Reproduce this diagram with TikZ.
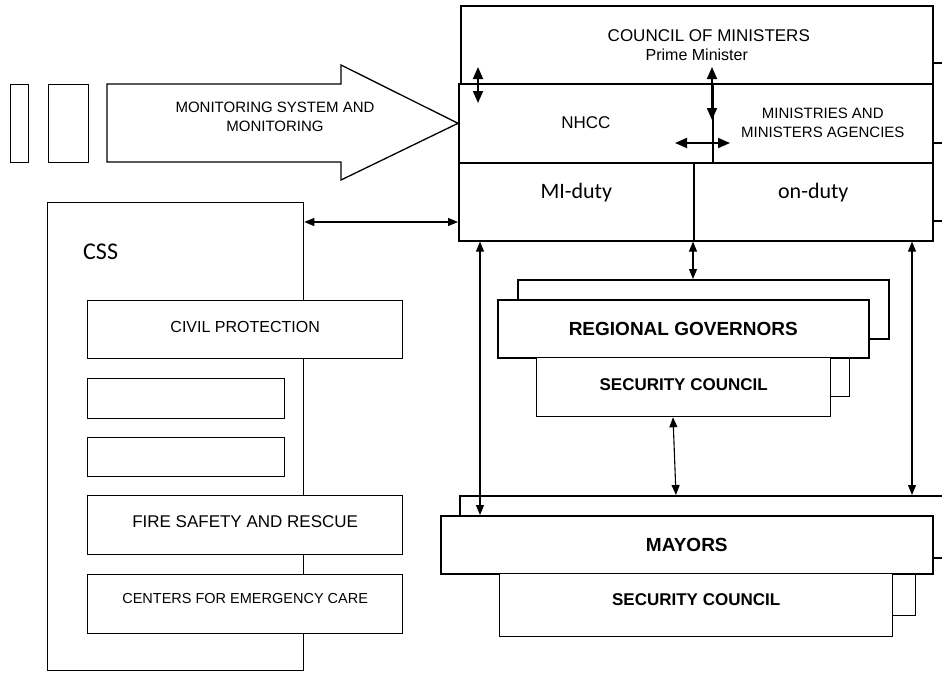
\documentclass[tikz,border=0pt]{standalone}
\usepackage{fontspec}
\setmainfont{Liberation Sans}
\newfontfamily\calfont{Carlito}
\usetikzlibrary{arrows.meta, positioning}
\tikzstyle{unit} = [draw, fill=white, line width=1.6pt, rectangle, inner sep=0pt, anchor=north west, align=center]
\tikzstyle{sub} = [draw, fill=white, line width=1.3pt, rectangle, inner sep=0pt, anchor=north west, align=center]
\tikzstyle{link} = [line width=1.1pt, {Triangle[length=10pt,width=8pt]}-{Triangle[length=10pt,width=8pt]}]
\tikzstyle{biglink} = [line width=1.8pt, {Triangle[length=12pt,width=10pt]}-{Triangle[length=12pt,width=10pt]}]
\tikzstyle{stub} = [line width=1.3pt]

\begin{document}
\begin{tikzpicture}[x=1pt, y=-1pt]
	\clip (0,0) rectangle (942,672);
	% top block
	\node [unit, minimum width=472pt, minimum height=78pt, font=\fontsize{17}{20}\selectfont] (council) at (460,5) {%
		\hspace*{24pt}COUNCIL OF MINISTERS\\[-1pt]{\fontsize{16}{18}\selectfont Prime Minister}};
	\node [unit, minimum width=254pt, minimum height=79pt, font=\fontsize{17}{20}\selectfont, text height=12pt, text depth=1pt] (nhcc) at (458,83) {NHCC};
	\node [unit, minimum width=220pt, minimum height=79pt, font=\fontsize{15}{19}\selectfont] (ministries) at (712,83) {MINISTRIES AND\\MINISTERS AGENCIES};
	\node [unit, minimum width=235pt, minimum height=78pt, font=\calfont\fontsize{22}{24}\selectfont, text height=16pt, text depth=22pt] (miduty) at (458,162) {MI-duty};
	\node [unit, minimum width=239pt, minimum height=78pt, font=\calfont\fontsize{22}{24}\selectfont, text height=16pt, text depth=22pt] (onduty) at (693,162) {on-duty};
	\draw [stub] (council.east |- 0,63) -- ++(10,0);
	\draw [stub] (ministries.east |- 0,143) -- ++(10,0);
	\draw [stub] (onduty.east |- 0,221) -- ++(10,0);
	\coordinate (ulink) at (478,83);
	\coordinate (hlink) at (712,143);
	\draw [biglink] ([yshift=16pt]ulink) -- ([yshift=-20pt]ulink);
	\draw [biglink] ([yshift=16pt]ministries.north west) -- ([yshift=-37pt]ministries.north west);
	\draw [biglink] ([xshift=-37pt]hlink) -- ([xshift=18pt]hlink);

	% monitoring arrow
	\node [sub, minimum width=18pt, minimum height=78pt] (bar1) at (10,84) {};
	\node [sub, minimum width=40pt, minimum height=78pt] (bar2) at (48,84) {};
	\draw [line width=1.3pt] (107,84) -- (341,84) -- (341,65) -- (nhcc.west) -- (341,180) -- (341,162) -- (107,162) -- cycle;
	\node [align=center, font=\fontsize{15}{19}\selectfont] (monitor) at (275,117) {MONITORING SYSTEM AND\\MONITORING};

	% CSS
	\node [unit, line width=1.3pt, minimum width=256pt, minimum height=468pt] (css) at (47,202) {};
	\node [anchor=west, inner sep=0pt, font=\calfont\fontsize{24}{26}\selectfont] (csslabel) at (83,252) {CSS};
	\node [sub, minimum width=315pt, minimum height=58pt, font=\fontsize{16}{18}\selectfont, text height=12pt, text depth=6pt] (civil) at (87,300) {CIVIL PROTECTION};
	\node [sub, minimum width=197pt, minimum height=40pt] (empty1) at (87,378) {};
	\node [sub, minimum width=197pt, minimum height=39pt] (empty2) at (87,437) {};
	\node [sub, minimum width=315pt, minimum height=59pt, font=\fontsize{17}{19}\selectfont, text height=12pt, text depth=8pt] (fire) at (87,495) {FIRE SAFETY AND RESCUE};
	\node [sub, minimum width=315pt, minimum height=59pt, font=\fontsize{14.5}{17}\selectfont, text height=11pt, text depth=12pt] (centers) at (87,574) {CENTERS FOR EMERGENCY CARE};
	\draw [link] (css.east |- 0,222) -- (miduty.west |- 0,222);

	% regional governors
	\node [unit, minimum width=371pt, minimum height=59pt] (rgback) at (517,279) {};
	\node [sub, minimum width=293pt, minimum height=56pt] (scrgback) at (556,340) {};
	\node [unit, minimum width=371pt, minimum height=58pt, font=\bfseries\fontsize{19}{21}\selectfont] (rg) at (497,299) {REGIONAL GOVERNORS};
	\node [sub, minimum width=294pt, minimum height=59pt, font=\bfseries\fontsize{17}{19}\selectfont, text height=13pt, text depth=6pt] (scrg) at (536,357) {SECURITY COUNCIL};

	% mayors
	\node [unit, minimum width=520pt, minimum height=62pt] (mback) at (459,495) {};
	\node [sub, minimum width=375pt, minimum height=55pt] (scmback) at (540,560) {};
	\node [unit, minimum width=492pt, minimum height=58pt, font=\bfseries\fontsize{19}{21}\selectfont] (mayors) at (440,515) {MAYORS};
	\node [sub, minimum width=393pt, minimum height=63pt, font=\bfseries\fontsize{17}{19}\selectfont, text height=13pt, text depth=12pt] (scm) at (499,573) {SECURITY COUNCIL};

	% links
	\draw [link] (miduty.south -| 480,0) -- (mayors.north -| 480,0);
	\draw [link] (onduty.south west) -- (rgback.north -| onduty.south west);
	\draw [link] (onduty.south -| 912,0) -- (mback.north -| 912,0);
	\draw [link] (scrg.south -| 673,0) -- (mback.north -| 676,0);
\end{tikzpicture}
\end{document}
